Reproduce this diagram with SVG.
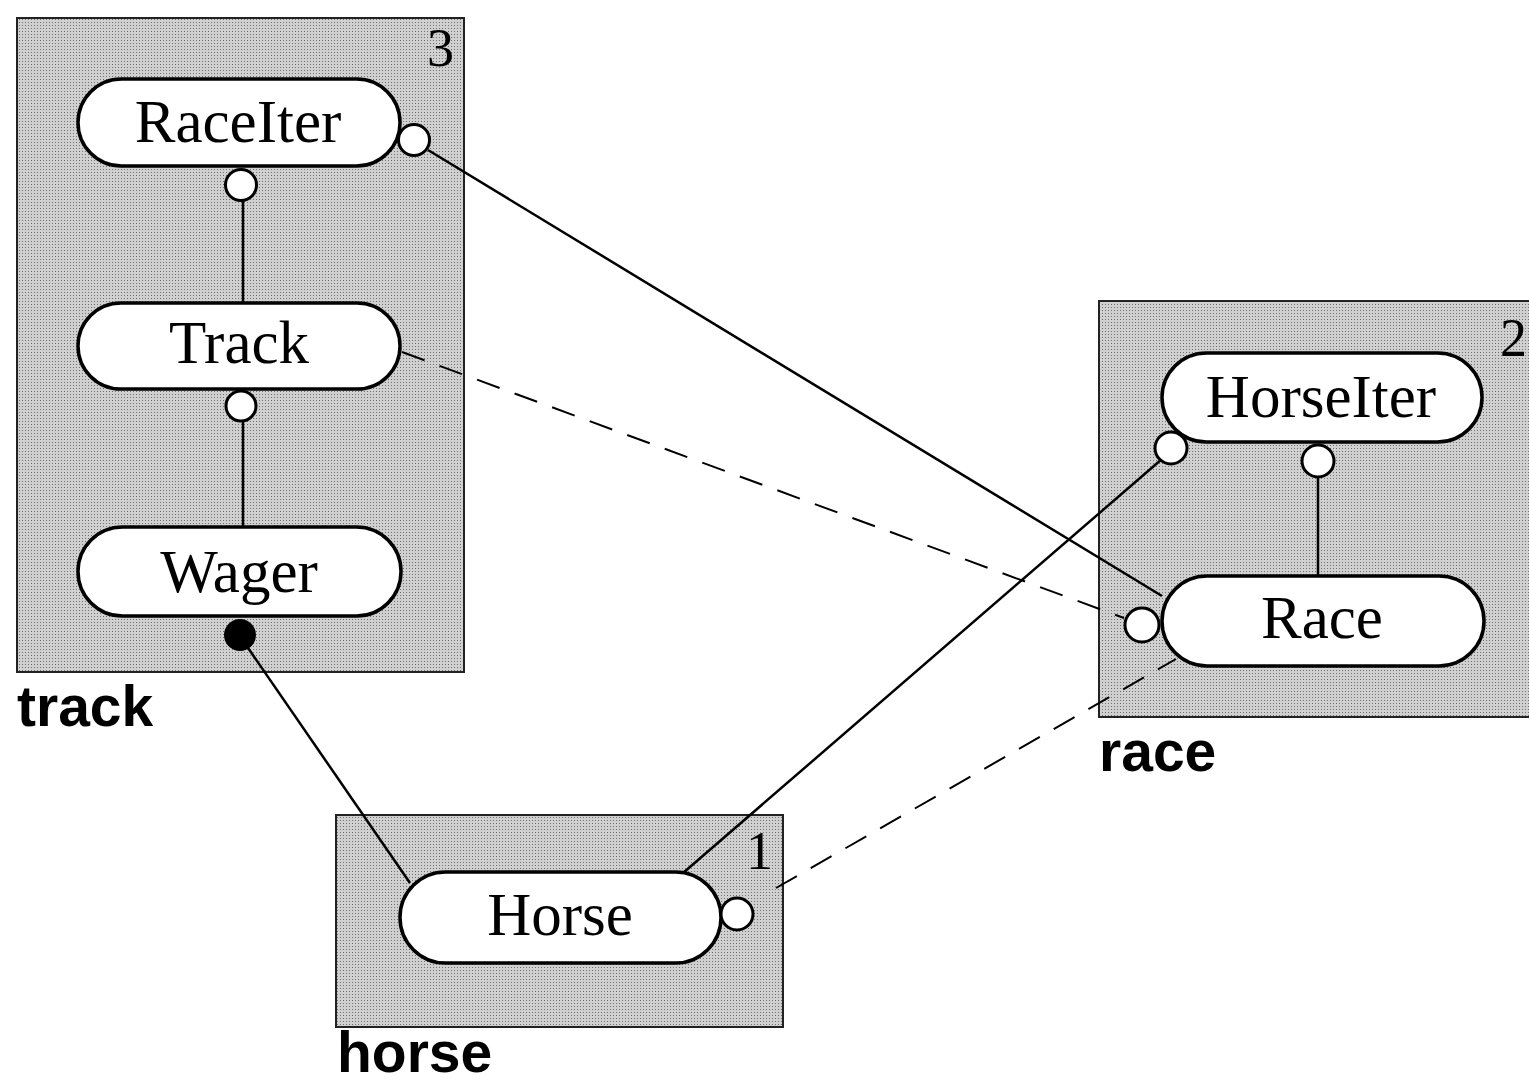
<svg xmlns="http://www.w3.org/2000/svg" width="1529" height="1084" viewBox="0 0 1529 1084">
<defs>
<pattern id="stip" width="3" height="3" patternUnits="userSpaceOnUse">
<rect width="3" height="3" fill="#d0d0d0"/>
<rect x="1" y="1" width="1" height="1" fill="#707070"/>
</pattern>
</defs>
<style>
.box{fill:url(#stip);stroke:#222;stroke-width:2}
.pill{fill:#fff;stroke:#000;stroke-width:3.5}
.port{fill:#fff;stroke:#000;stroke-width:3}
.name{font-family:"Liberation Serif","Times New Roman",serif;font-size:61px;text-anchor:middle;fill:#000}
.num{font-family:"Liberation Serif","Times New Roman",serif;font-size:54px;fill:#000}
.lbl{font-family:"Liberation Sans",Arial,sans-serif;font-weight:bold;font-size:57px;fill:#000}
.solid{stroke:#000;stroke-width:2.5;fill:none}
.dash{stroke:#000;stroke-width:2;fill:none;stroke-dasharray:24 16}
</style>
<g id="track">
<rect class="box" x="17" y="18" width="447" height="654"/>
<text class="num" x="427" y="66">3</text>
<text class="lbl" x="17" y="726">track</text>
</g>
<g id="race">
<rect class="box" x="1099" y="301" width="440" height="416"/>
<text class="num" x="1500" y="356">2</text>
<text class="lbl" x="1099" y="771">race</text>
</g>
<g id="horse">
<rect class="box" x="336" y="815" width="447" height="212"/>
<text class="num" x="746" y="869">1</text>
<text class="lbl" x="337" y="1072">horse</text>
</g>
<g id="connectors">
<line class="solid" x1="243" y1="200" x2="243" y2="303"/>
<line class="solid" x1="243" y1="420" x2="243" y2="527"/>
<line class="solid" x1="1318" y1="477" x2="1318" y2="576"/>
<line class="solid" x1="428" y1="150" x2="1162" y2="596"/>
<line class="dash" x1="402" y1="352" x2="1124" y2="618"/>
<line class="solid" x1="683" y1="873" x2="1162" y2="459"/>
<line class="dash" x1="776" y1="888" x2="1176" y2="659"/>
<line class="solid" x1="246" y1="645" x2="410" y2="883"/>
</g>
<g id="RaceIter">
<rect class="pill" x="78" y="79" width="322" height="87" rx="43.5"/>
<text class="name" x="238" y="142">RaceIter</text>
<circle class="port" cx="414" cy="140" r="15.5"/>
<circle class="port" cx="241" cy="185" r="15.5"/>
</g>
<g id="Track">
<rect class="pill" x="78" y="303" width="322" height="86" rx="43"/>
<text class="name" x="239" y="363">Track</text>
<circle class="port" cx="241" cy="406" r="15"/>
</g>
<g id="Wager">
<rect class="pill" x="78" y="527" width="323" height="89" rx="44.5"/>
<text class="name" x="239" y="592">Wager</text>
<circle cx="240" cy="635" r="16" fill="#000"/>
</g>
<g id="HorseIter">
<rect class="pill" x="1162" y="353" width="320" height="89" rx="44.5"/>
<text class="name" x="1321" y="417">HorseIter</text>
<circle class="port" cx="1171" cy="448" r="16"/>
<circle class="port" cx="1318" cy="461" r="16"/>
</g>
<g id="Race">
<rect class="pill" x="1162" y="576" width="322" height="90" rx="45"/>
<text class="name" x="1322" y="638">Race</text>
<circle class="port" cx="1142" cy="625" r="17"/>
</g>
<g id="Horse">
<rect class="pill" x="400" y="872" width="321" height="91" rx="45.5"/>
<text class="name" x="560" y="935">Horse</text>
<circle class="port" cx="737" cy="914" r="16"/>
</g>
</svg>
